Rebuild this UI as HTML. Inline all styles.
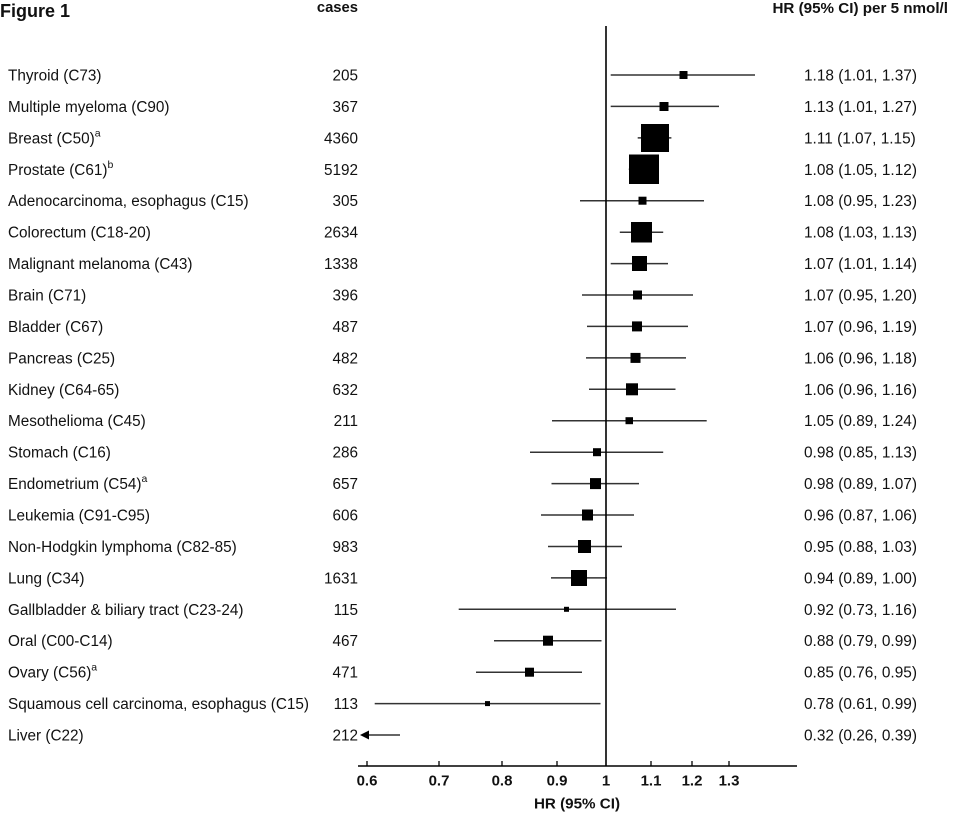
<!DOCTYPE html>
<html><head><meta charset="utf-8"><style>
html,body{margin:0;padding:0;background:#fff;}
svg{display:block;}
text{font-family:"Liberation Sans",Arial,sans-serif;fill:#111;}
.l{font-size:15.3px;}
.r{font-size:15.4px;}
.b{font-weight:bold;}
</style></head><body>
<svg width="953" height="816" viewBox="0 0 953 816" xmlns="http://www.w3.org/2000/svg">
<rect width="953" height="816" fill="#fff"/>
<text x="0" y="17" class="b" font-size="18">Figure 1</text>
<text x="358" y="12" class="b" font-size="14.8" text-anchor="end">cases</text>
<text x="948" y="13" class="b" font-size="15.2" text-anchor="end">HR (95% CI) per 5 nmol/l</text>

<!-- labels -->
<g class="l">
<text x="8" y="80.5">Thyroid (C73)</text>
<text x="8" y="111.9">Multiple myeloma (C90)</text>
<text x="8" y="143.4">Breast (C50)<tspan dy="-7" font-size="10.5">a</tspan></text>
<text x="8" y="174.8">Prostate (C61)<tspan dy="-7" font-size="10.5">b</tspan></text>
<text x="8" y="206.2">Adenocarcinoma, esophagus (C15)</text>
<text x="8" y="237.7">Colorectum (C18-20)</text>
<text x="8" y="269.1">Malignant melanoma (C43)</text>
<text x="8" y="300.5">Brain (C71)</text>
<text x="8" y="331.9">Bladder (C67)</text>
<text x="8" y="363.4">Pancreas (C25)</text>
<text x="8" y="394.8">Kidney (C64-65)</text>
<text x="8" y="426.2">Mesothelioma (C45)</text>
<text x="8" y="457.7">Stomach (C16)</text>
<text x="8" y="489.1">Endometrium (C54)<tspan dy="-7" font-size="10.5">a</tspan></text>
<text x="8" y="520.5">Leukemia (C91-C95)</text>
<text x="8" y="552">Non-Hodgkin lymphoma (C82-85)</text>
<text x="8" y="583.4">Lung (C34)</text>
<text x="8" y="614.8">Gallbladder &amp; biliary tract (C23-24)</text>
<text x="8" y="646.2">Oral (C00-C14)</text>
<text x="8" y="677.7">Ovary (C56)<tspan dy="-7" font-size="10.5">a</tspan></text>
<text x="8" y="709.1">Squamous cell carcinoma, esophagus (C15)</text>
<text x="8" y="740.5">Liver (C22)</text>
</g>

<!-- cases -->
<g class="l" text-anchor="end">
<text x="358" y="80.5">205</text>
<text x="358" y="111.9">367</text>
<text x="358" y="143.4">4360</text>
<text x="358" y="174.8">5192</text>
<text x="358" y="206.2">305</text>
<text x="358" y="237.7">2634</text>
<text x="358" y="269.1">1338</text>
<text x="358" y="300.5">396</text>
<text x="358" y="331.9">487</text>
<text x="358" y="363.4">482</text>
<text x="358" y="394.8">632</text>
<text x="358" y="426.2">211</text>
<text x="358" y="457.7">286</text>
<text x="358" y="489.1">657</text>
<text x="358" y="520.5">606</text>
<text x="358" y="552">983</text>
<text x="358" y="583.4">1631</text>
<text x="358" y="614.8">115</text>
<text x="358" y="646.2">467</text>
<text x="358" y="677.7">471</text>
<text x="358" y="709.1">113</text>
<text x="358" y="740.5">212</text>
</g>

<!-- HR text -->
<g class="r">
<text x="804" y="80.5">1.18 (1.01, 1.37)</text>
<text x="804" y="111.9">1.13 (1.01, 1.27)</text>
<text x="804" y="143.4">1.11 (1.07, 1.15)</text>
<text x="804" y="174.8">1.08 (1.05, 1.12)</text>
<text x="804" y="206.2">1.08 (0.95, 1.23)</text>
<text x="804" y="237.7">1.08 (1.03, 1.13)</text>
<text x="804" y="269.1">1.07 (1.01, 1.14)</text>
<text x="804" y="300.5">1.07 (0.95, 1.20)</text>
<text x="804" y="331.9">1.07 (0.96, 1.19)</text>
<text x="804" y="363.4">1.06 (0.96, 1.18)</text>
<text x="804" y="394.8">1.06 (0.96, 1.16)</text>
<text x="804" y="426.2">1.05 (0.89, 1.24)</text>
<text x="804" y="457.7">0.98 (0.85, 1.13)</text>
<text x="804" y="489.1">0.98 (0.89, 1.07)</text>
<text x="804" y="520.5">0.96 (0.87, 1.06)</text>
<text x="804" y="552">0.95 (0.88, 1.03)</text>
<text x="804" y="583.4">0.94 (0.89, 1.00)</text>
<text x="804" y="614.8">0.92 (0.73, 1.16)</text>
<text x="804" y="646.2">0.88 (0.79, 0.99)</text>
<text x="804" y="677.7">0.85 (0.76, 0.95)</text>
<text x="804" y="709.1">0.78 (0.61, 0.99)</text>
<text x="804" y="740.5">0.32 (0.26, 0.39)</text>
</g>

<!-- CI lines -->
<g stroke="#333" stroke-width="1.5">
<line x1="610.7" y1="75" x2="755" y2="75"/>
<line x1="610.7" y1="106.4" x2="719" y2="106.4"/>
<line x1="637.7" y1="137.9" x2="671.4" y2="137.9"/>
<line x1="628.8" y1="169.3" x2="659" y2="169.3"/>
<line x1="580" y1="200.7" x2="704" y2="200.7"/>
<line x1="619.8" y1="232.2" x2="663.2" y2="232.2"/>
<line x1="610.7" y1="263.6" x2="668" y2="263.6"/>
<line x1="582" y1="295" x2="693" y2="295"/>
<line x1="587" y1="326.4" x2="688" y2="326.4"/>
<line x1="586" y1="357.9" x2="686" y2="357.9"/>
<line x1="589" y1="389.3" x2="675.5" y2="389.3"/>
<line x1="552" y1="420.7" x2="706.7" y2="420.7"/>
<line x1="530" y1="452.2" x2="663.2" y2="452.2"/>
<line x1="551.5" y1="483.6" x2="639" y2="483.6"/>
<line x1="541" y1="515" x2="634" y2="515"/>
<line x1="548" y1="546.5" x2="622" y2="546.5"/>
<line x1="551" y1="577.9" x2="607" y2="577.9"/>
<line x1="458.7" y1="609.3" x2="676" y2="609.3"/>
<line x1="494" y1="640.7" x2="601.5" y2="640.7"/>
<line x1="476" y1="672.2" x2="582" y2="672.2"/>
<line x1="374.7" y1="703.6" x2="600.5" y2="703.6"/>
<line x1="368" y1="735" x2="400" y2="735"/>
</g>
<polygon points="360,735 369,730.5 369,739.5" fill="#000"/>

<!-- markers -->
<g fill="#000">
<rect x="679.5" y="71" width="8" height="8"/>
<rect x="659.5" y="102" width="9" height="9"/>
<rect x="641" y="124" width="28" height="28"/>
<rect x="629" y="154.5" width="30" height="29.5"/>
<rect x="638.5" y="196.7" width="8" height="8"/>
<rect x="631" y="222" width="21" height="20.5"/>
<rect x="632" y="256" width="15" height="15"/>
<rect x="633" y="290.5" width="9" height="9"/>
<rect x="632" y="321.4" width="10" height="10"/>
<rect x="630.5" y="352.9" width="10" height="10"/>
<rect x="626" y="383.3" width="12" height="12"/>
<rect x="625.5" y="417.2" width="7.5" height="7"/>
<rect x="593" y="448.2" width="8" height="8"/>
<rect x="590" y="478.1" width="11" height="11"/>
<rect x="582" y="509.5" width="11" height="11"/>
<rect x="578" y="540" width="13" height="13"/>
<rect x="571" y="570" width="16" height="16"/>
<rect x="564" y="606.8" width="5" height="5"/>
<rect x="543" y="635.7" width="10" height="10"/>
<rect x="525" y="667.7" width="9" height="9"/>
<rect x="485" y="701.1" width="5" height="5"/>
</g>

<!-- reference line & axis -->
<line x1="606" y1="26" x2="606" y2="766.5" stroke="#000" stroke-width="1.6"/>
<line x1="358" y1="766" x2="797" y2="766" stroke="#000" stroke-width="1.5"/>
<g stroke="#000" stroke-width="1.3">
<line x1="367" y1="761" x2="367" y2="766"/>
<line x1="439" y1="761" x2="439" y2="766"/>
<line x1="502" y1="761" x2="502" y2="766"/>
<line x1="557" y1="761" x2="557" y2="766"/>
<line x1="651" y1="761" x2="651" y2="766"/>
<line x1="692" y1="761" x2="692" y2="766"/>
<line x1="729" y1="761" x2="729" y2="766"/>
</g>
<g class="b" font-size="15" text-anchor="middle">
<text x="367" y="785.5">0.6</text>
<text x="439" y="785.5">0.7</text>
<text x="502" y="785.5">0.8</text>
<text x="557" y="785.5">0.9</text>
<text x="606" y="785.5">1</text>
<text x="651" y="785.5">1.1</text>
<text x="692" y="785.5">1.2</text>
<text x="729" y="785.5">1.3</text>
</g>
<text x="577" y="808.5" class="b" font-size="15.2" text-anchor="middle">HR (95% CI)</text>
</svg>
</body></html>
